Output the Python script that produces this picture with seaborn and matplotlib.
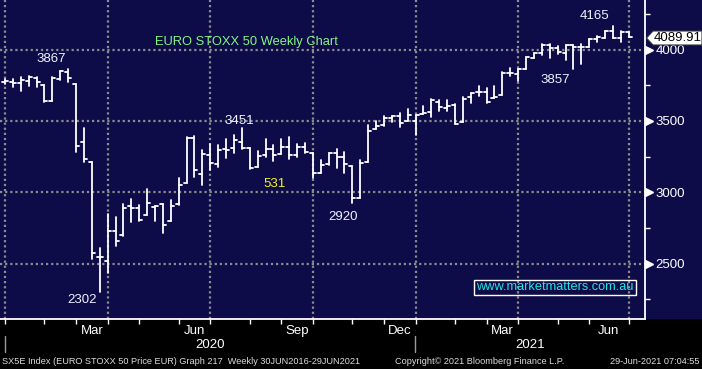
import numpy as np
import pandas as pd
import matplotlib
matplotlib.use("Agg")
import matplotlib.pyplot as plt
import matplotlib.transforms as mtransforms
from matplotlib.patches import Rectangle, Polygon
import seaborn as sns

# ---------------- data (weekly OHLC, EURO STOXX 50, Dec-2019 .. Jun-2021) -------------
opens = [3772, 3772, 3765, 3783, 3800, 3753, 3643, 3793, 3846, 3760,
         3351, 3211, 2549, 2519, 2731, 2699, 2907, 2893, 2839, 2895,
         2916, 2797, 2916, 3064, 3379, 3127, 3260, 3199, 3306, 3309,
         3355, 3311, 3176, 3260, 3302, 3267, 3316, 3262, 3316, 3276,
         3138, 3197, 3274, 3246, 3185, 2963, 3215, 3446, 3472, 3519,
         3535, 3502, 3502, 3549, 3563, 3633, 3589, 3612, 3491, 3666,
         3706, 3703, 3659, 3680, 3839, 3830, 3867, 3944, 3975, 4033,
         4010, 3975, 4033, 4017, 4017, 4073, 4084, 4131, 4080, 4122]
highs = [3792, 3797, 3807, 3816, 3807, 3753, 3807, 3853, 3865, 3760,
         3449, 3211, 2608, 2848, 2825, 2916, 2951, 2909, 3022, 2907,
         2921, 2947, 3099, 3386, 3395, 3295, 3337, 3332, 3372, 3402,
         3449, 3311, 3288, 3372, 3332, 3372, 3390, 3337, 3344, 3276,
         3227, 3274, 3304, 3283, 3185, 3227, 3472, 3500, 3535, 3535,
         3554, 3584, 3542, 3605, 3652, 3647, 3647, 3617, 3666, 3699,
         3746, 3729, 3746, 3842, 3870, 3867, 3947, 3979, 4038, 4038,
         4026, 4033, 4033, 4038, 4073, 4098, 4133, 4166, 4131, 4126]
lows = [3760, 3741, 3713, 3748, 3736, 3636, 3643, 3788, 3774, 3285,
        3215, 2533, 2303, 2433, 2626, 2696, 2794, 2797, 2839, 2801,
        2713, 2797, 2914, 3064, 3110, 3052, 3155, 3180, 3243, 3278,
        3302, 3166, 3176, 3246, 3222, 3267, 3236, 3246, 3278, 3103,
        3138, 3192, 3173, 3138, 2923, 2963, 3215, 3446, 3467, 3495,
        3460, 3502, 3402, 3547, 3526, 3572, 3572, 3477, 3491, 3629,
        3675, 3624, 3659, 3680, 3818, 3783, 3867, 3944, 3963, 3940,
        3970, 3928, 3863, 3898, 4017, 4056, 4080, 4080, 4052, 4089]
closes = [3783, 3769, 3788, 3811, 3776, 3638, 3804, 3851, 3800, 3327,
          3232, 2577, 2545, 2727, 2657, 2888, 2888, 2804, 2923, 2904,
          2769, 2902, 3050, 3379, 3155, 3269, 3204, 3295, 3295, 3365,
          3309, 3171, 3255, 3302, 3262, 3316, 3264, 3316, 3281, 3136,
          3190, 3274, 3246, 3197, 2958, 3204, 3430, 3465, 3523, 3535,
          3484, 3542, 3542, 3556, 3647, 3596, 3605, 3479, 3652, 3694,
          3706, 3633, 3666, 3839, 3835, 3863, 3947, 3975, 4033, 4010,
          3982, 4033, 4017, 4021, 4073, 4091, 4131, 4080, 4126, 4090]

# month-end bar positions (bottom ticks) and quarter gridlines
month_end_bars = [0, 5, 9, 13, 17, 22, 26, 31, 35, 39, 44, 48, 52, 57, 61, 65, 70, 74, 79]
quarter_bars = [0, 13, 26, 39, 52, 65, 79]
month_label_pos = [11, 24, 37, 50, 63, 76.5]
month_labels = ["Mar", "Jun", "Sep", "Dec", "Mar", "Jun"]
price_ticks = [2500, 3000, 3500, 4000]
minor_price_ticks = [2250, 2750, 3250, 3750, 4250]
last_price = "4089.91"

# annotations: (text, bar index, price, colour)
annotations = [("3867", 5.83, 3935, "#eef2ff"),
               ("2302", 9.75, 2246, "#eef2ff"),
               ("3451", 29.7, 3500, "#eef2ff"),
               ("531", 34.2, 3059, "#f2f21e"),
               ("2920", 42.8, 2827, "#eef2ff"),
               ("3857", 69.7, 3788, "#eef2ff"),
               ("4165", 74.7, 4236, "#eef2ff")]

# ---------------- style -----------------------------------------------------------
sns.set_theme(style="dark")
plt.rcParams["font.family"] = ["Liberation Sans", "DejaVu Sans"]

NAVY = "#0e0c48"
W, H = 702, 369
fig = plt.figure(figsize=(W / 100, H / 100), dpi=100, facecolor="black")

# navy strip to the right of the axis (behind everything)
fig.patches.append(Rectangle((645 / W, 1 - 319 / H), 1 - 645 / W, 319 / H,
                             transform=fig.transFigure, facecolor=NAVY,
                             edgecolor="none", zorder=-5))

ax = fig.add_axes([0, 1 - 319 / H, 645 / W, 319 / H])
ax.set_facecolor(NAVY)
ax.set_zorder(1)

# ---------------- OHLC via seaborn lineplot ----------------------------------------
n = len(opens)
idx = np.arange(n)
half = 0.38
rows = []
for i in idx:
    rows.append((i, lows[i], f"hl{i}"))
    rows.append((i, highs[i], f"hl{i}"))
    rows.append((i - half, opens[i], f"o{i}"))
    rows.append((i, opens[i], f"o{i}"))
    rows.append((i, closes[i], f"c{i}"))
    rows.append((i + half, closes[i], f"c{i}"))
df = pd.DataFrame(rows, columns=["bar", "price", "seg"])
sns.lineplot(data=df, x="bar", y="price", units="seg", estimator=None,
             color="white", linewidth=1.3, ax=ax, legend=False, zorder=3)

# ---------------- axes, grid -------------------------------------------------------
ax.set_xlim(-5 / 7.895, 640 / 7.895)
ax.set_ylim(2112, 4348)
ax.set_xlabel("")
ax.set_ylabel("")

grid_kw = dict(color="#8c8c8c", linewidth=1.6, linestyle=(0, (1, 1.3)), zorder=1)
for q in quarter_bars:
    ax.axvline(q, **grid_kw)
for p in price_ticks:
    ax.axhline(p, **grid_kw)

for s in ["top", "left"]:
    ax.spines[s].set_visible(False)
for s in ["bottom", "right"]:
    ax.spines[s].set_visible(True)
    ax.spines[s].set_color("white")
    ax.spines[s].set_linewidth(1.3)

# y axis on the right
ax.yaxis.tick_right()
ax.set_yticks(price_ticks)
ax.set_yticklabels([str(p) for p in price_ticks])
ax.set_yticks(minor_price_ticks, minor=True)
ax.tick_params(axis="y", which="major", length=0, pad=7.5, labelsize=9.5,
               labelcolor="white", right=True, left=False, labelright=True, labelleft=False)
ax.tick_params(axis="y", which="minor", length=3.5, width=1, color="white",
               direction="out", right=True, left=False)
trans_y = mtransforms.blended_transform_factory(ax.transAxes, ax.transData)
ax.plot([1.0055] * len(price_ticks), price_ticks, linestyle="none", marker=">",
        markersize=5.5, color="white", transform=trans_y, clip_on=False, zorder=5)

# x axis
ax.set_xticks(month_end_bars)
ax.set_xticklabels([""] * len(month_end_bars))
ax.set_xticks(month_label_pos, minor=True)
ax.set_xticklabels(month_labels, minor=True)
ax.tick_params(axis="x", which="major", length=3.5, width=1, color="white",
               direction="out", bottom=True)
ax.tick_params(axis="x", which="minor", length=0, pad=4, labelsize=9.5,
               labelcolor="white", bottom=True)

# ---------------- texts ------------------------------------------------------------
for txt, bx, py, col in annotations:
    ax.text(bx, py, txt, color=col, fontsize=9.5, ha="center", va="center", zorder=6)

ax.text(19.0, 4054, "EURO STOXX 50 Weekly Chart", color="#84f484", fontsize=9.3,
        ha="left", va="center", zorder=6)

ax.text(69.66, 2333, "www.marketmatters.com.au", color="#22e6e6", fontsize=9.2,
        ha="center", va="center", zorder=6,
        bbox=dict(boxstyle="square,pad=0.15", facecolor="none", edgecolor="white",
                  linewidth=1.0))

# last price flag
poly = Polygon([(646.5 / W, 1 - 38 / H), (653 / W, 1 - 31 / H), (702 / W, 1 - 31 / H),
                (702 / W, 1 - 45 / H), (653 / W, 1 - 45 / H)], closed=True,
               transform=fig.transFigure, facecolor="white", edgecolor="#333333",
               linewidth=0.8, zorder=7)
fig.patches.append(poly)
fig.text(654 / W, 1 - 38 / H, last_price, color="black", fontsize=9.5,
         ha="left", va="center", zorder=8)

# years and separators
fig.text(210 / W, 1 - 345 / H, "2020", color="white", fontsize=9.5, ha="center", va="center")
fig.text(530 / W, 1 - 345 / H, "2021", color="white", fontsize=9.5, ha="center", va="center")
for xp in [5, 415]:
    fig.add_artist(plt.Line2D([xp / W, xp / W], [1 - 336 / H, 1 - 352 / H],
                              color="#9a9a9a", linewidth=1.0, transform=fig.transFigure))

# footer
foot = dict(color="#dcdcdc", fontsize=6.6, va="center")
fig.text(2 / W, 1 - 362 / H,
         "SX5E Index (EURO STOXX 50 Price EUR) Graph 217  Weekly 30JUN2016-29JUN2021",
         ha="left", **foot)
fig.text(395 / W, 1 - 362 / H, "Copyright\u00a9 2021 Bloomberg Finance L.P.", ha="left", **foot)
fig.text(700 / W, 1 - 362 / H, "29-Jun-2021 07:04:55", ha="right", **foot)

fig.savefig("out.png", dpi=100, facecolor="black")
